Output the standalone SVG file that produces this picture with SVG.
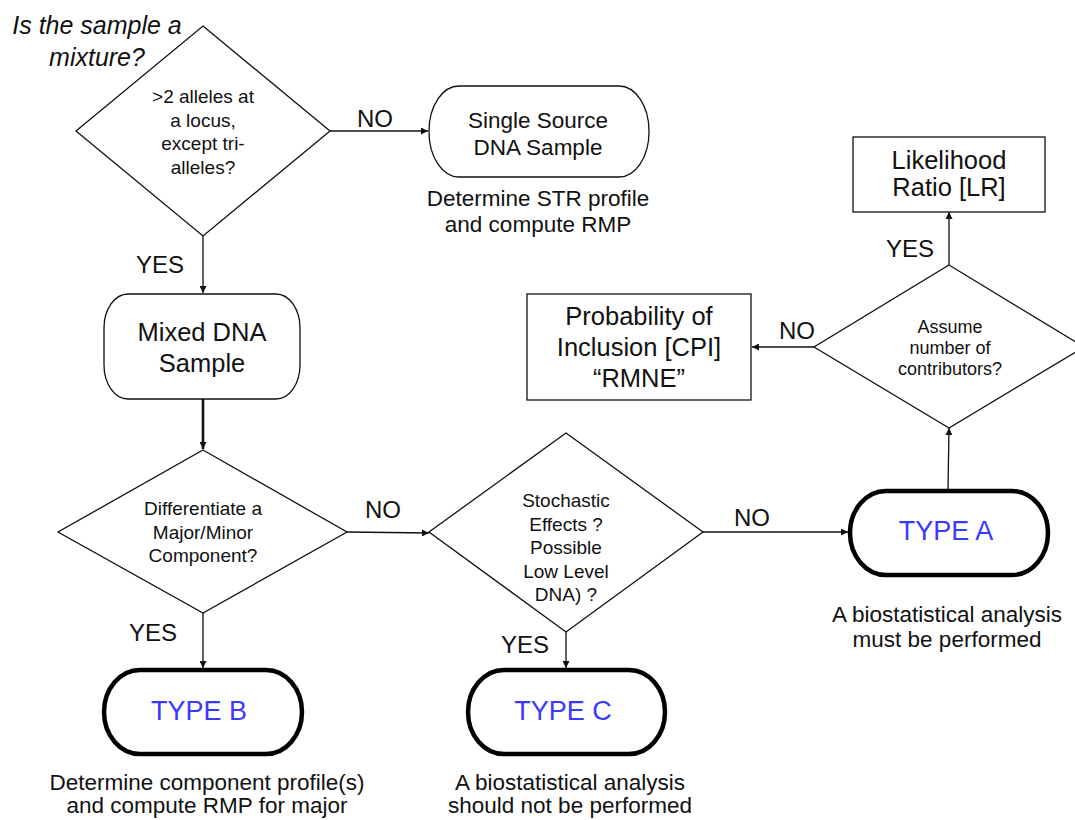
<svg xmlns="http://www.w3.org/2000/svg" width="1075" height="820" viewBox="0 0 1075 820">
<defs>
<style>
text{font-family:"Liberation Sans",Arial,sans-serif;fill:#111;text-anchor:middle}
.shape{fill:#fff;stroke:#111;stroke-width:1.3}
.thick{fill:#fff;stroke:#000;stroke-width:4.5}
.conn{stroke:#111;stroke-width:1.3;fill:none;marker-end:url(#arr)}
.d{font-size:19px}
.d4{font-size:18px}
.lbl{font-size:24px}
.big{font-size:25.5px}
.mid{font-size:22.5px}
.type{font-size:27px;fill:#3a3aff}
.title{font-size:25px;font-style:italic}
</style>
<marker id="arr" viewBox="0 0 10 10" refX="10" refY="5" markerWidth="7" markerHeight="7" markerUnits="userSpaceOnUse" orient="auto">
<path d="M0,0 L10,5 L0,10 z" fill="#111"/>
</marker>
</defs>
<rect width="1075" height="820" fill="#fff"/>

<g id="title">
<text class="title" x="97" y="34">Is the sample a</text>
<text class="title" x="97" y="66">mixture?</text>
</g>

<g id="connectors">
<line class="conn" x1="330" y1="131" x2="428" y2="131"/>
<line class="conn" x1="203" y1="236" x2="203" y2="293"/>
<line class="conn" x1="203" y1="399" x2="203" y2="449" style="stroke-width:2.6"/>
<line class="conn" x1="347" y1="532" x2="429" y2="533"/>
<line class="conn" x1="203" y1="613" x2="203" y2="668"/>
<line class="conn" x1="703" y1="532" x2="848" y2="532"/>
<line class="conn" x1="566" y1="632" x2="566" y2="668"/>
<line class="conn" x1="948" y1="489" x2="949" y2="428"/>
<line class="conn" x1="949" y1="265" x2="949" y2="212"/>
<line class="conn" x1="814" y1="347" x2="752" y2="347"/>
<text class="lbl" x="375" y="127">NO</text>
<text class="lbl" x="160" y="273">YES</text>
<text class="lbl" x="383" y="518">NO</text>
<text class="lbl" x="153" y="641">YES</text>
<text class="lbl" x="525" y="653">YES</text>
<text class="lbl" x="752" y="526">NO</text>
<text class="lbl" x="910" y="257">YES</text>
<text class="lbl" x="797" y="339">NO</text>
</g>

<g id="d1">
<polygon class="shape" points="203,26 330,131 203,236 76,131"/>
<text class="d" x="203" y="103">&gt;2 alleles at</text>
<text class="d" x="203" y="127">a locus,</text>
<text class="d" x="203" y="150">except tri-</text>
<text class="d" x="203" y="174">alleles?</text>
</g>

<g id="single">
<rect class="shape" x="429" y="86" width="220" height="91" rx="30" ry="45"/>
<text class="mid" x="538" y="128">Single Source</text>
<text class="mid" x="538" y="155">DNA Sample</text>
<text class="mid" x="538" y="206">Determine STR profile</text>
<text class="mid" x="538" y="232">and compute RMP</text>
</g>

<g id="mixed">
<rect class="shape" x="104" y="294" width="196" height="105" rx="24" ry="34"/>
<text class="big" x="202" y="341">Mixed DNA</text>
<text class="big" x="202" y="372">Sample</text>
</g>

<g id="d2">
<polygon class="shape" points="203,450 347,532 203,613 58,532"/>
<text class="d" x="203" y="515">Differentiate a</text>
<text class="d" x="203" y="539">Major/Minor</text>
<text class="d" x="203" y="562">Component?</text>
</g>

<g id="d3">
<polygon class="shape" points="566,433 703,532 566,632 429,532"/>
<text class="d" x="566" y="507">Stochastic</text>
<text class="d" x="566" y="531">Effects ?</text>
<text class="d" x="566" y="554">Possible</text>
<text class="d" x="566" y="578">Low Level</text>
<text class="d" x="566" y="601">DNA) ?</text>
</g>

<g id="typeA">
<rect class="thick" x="850" y="491" width="198" height="84" rx="36" ry="42"/>
<text class="type" x="946" y="540">TYPE A</text>
<text class="mid" x="947" y="622">A biostatistical analysis</text>
<text class="mid" x="947" y="647">must be performed</text>
</g>

<g id="d4">
<polygon class="shape" points="949,265 1084,347 949,428 814,347"/>
<text class="d4" x="950" y="333">Assume</text>
<text class="d4" x="950" y="354">number of</text>
<text class="d4" x="950" y="375">contributors?</text>
</g>

<g id="lr">
<rect class="shape" x="853" y="137" width="192" height="75"/>
<text class="big" x="949" y="169">Likelihood</text>
<text class="big" x="949" y="196">Ratio [LR]</text>
</g>

<g id="cpi">
<rect class="shape" x="527" y="294" width="224" height="106"/>
<text class="big" x="639" y="325">Probability of</text>
<text class="big" x="639" y="356">Inclusion [CPI]</text>
<text class="big" x="639" y="387">“RMNE”</text>
</g>

<g id="typeB">
<rect class="thick" x="104" y="670" width="198" height="84" rx="36" ry="42"/>
<text class="type" x="199" y="720">TYPE B</text>
<text class="mid" x="207" y="790">Determine component profile(s)</text>
<text class="mid" x="207" y="813">and compute RMP for major</text>
</g>

<g id="typeC">
<rect class="thick" x="468" y="670" width="197" height="84" rx="36" ry="42"/>
<text class="type" x="563" y="720">TYPE C</text>
<text class="mid" x="570" y="790">A biostatistical analysis</text>
<text class="mid" x="570" y="813">should not be performed</text>
</g>
</svg>
